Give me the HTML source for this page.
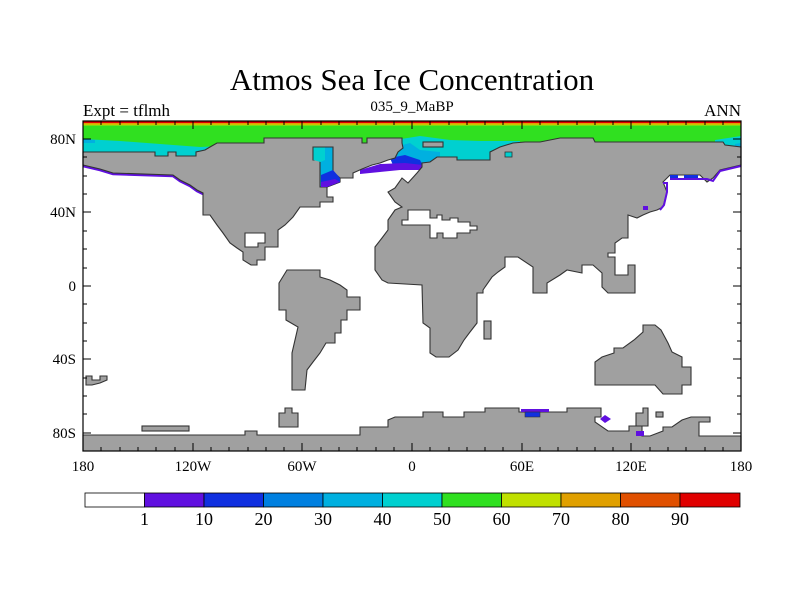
<!DOCTYPE html>
<html><head><meta charset="utf-8"><style>
body{margin:0;background:#fff;width:800px;height:600px;overflow:hidden}
svg text{font-family:"Liberation Serif",serif;fill:#000}
</style></head><body>
<svg width="800" height="600" viewBox="0 0 800 600" xmlns="http://www.w3.org/2000/svg">
<rect width="800" height="600" fill="#fff"/>
<text x="412" y="90" font-size="31" text-anchor="middle">Atmos Sea Ice Concentration</text>
<text x="83" y="116" font-size="17">Expt = tflmh</text>
<text x="412" y="111" font-size="15" text-anchor="middle">035_9_MaBP</text>
<text x="741" y="116" font-size="17" text-anchor="end">ANN</text>
<!-- polar bands -->
<rect x="83" y="121" width="658" height="2" fill="#e00000"/>
<rect x="83" y="123" width="658" height="1.5" fill="#e0a000"/>
<rect x="83" y="124.5" width="658" height="1" fill="#c0e000"/>
<rect x="83" y="125.5" width="658" height="28" fill="#30e020"/>
<!-- cyan left -->
<polygon points="83,139 120,141 160,144 200,147 222,146 230,143 230,156 83,156" fill="#00d0d0"/>
<polygon points="83,139 95,140 95,143 83,143" fill="#00b0e0"/>
<!-- cyan europe arctic -->
<polygon points="395,140 420,136 450,140 480,141 520,141 520,150 500,150 500,170 395,170" fill="#00d0d0"/>
<polygon points="395,147 410,143 420,150 440,152 440,160 420,165 395,168" fill="#00b0e0"/>
<polygon points="390,158 405,155 420,160 423,166 395,170" fill="#1030e0"/>
<polygon points="360,170 380,164 405,163 423,165 423,170 400,170 380,172 360,174" fill="#6010e0"/>
<!-- cyan far right -->
<polygon points="715,140 741,136 741,150 715,150" fill="#00d0d0"/>
<polygon points="735,144 741,143 741,150 735,150" fill="#00b0e0"/>
<!-- purple coast left -->
<polyline points="83,166 100,170 113,174 173,176 180,181 190,186 197,191 203,194" fill="none" stroke="#6010e0" stroke-width="2.5"/>
<g fill="#a0a0a0" stroke="#333" stroke-width="1.1" stroke-linejoin="miter">
<polygon points="83,152 155,152 155,156 168,156 168,152 176,152 176,156 196,156 196,152 205,150 210,147 217,143 264,143 264,138 362,138 362,143 367,143 367,138 402,138 402,143 403,148 398,152 395,158 388,160 380,163 372,165 362,169 353,173 353,178 340,178 340,182 327,187 327,197 333,197 333,202 320,202 320,207 300,207 293,217 285,225 278,230 278,247 265,247 265,260 257,260 257,265 251,265 243,260 243,252 237,248 230,243 223,233 217,225 210,215 203,215 203,193 197,190 190,185 180,180 173,175 113,173 100,169 83,165"/>
<polygon points="422,167 422,163 430,162 437,157 457,157 457,160 490,160 490,152 500,147 513,143 525,142 540,142 560,138 593,138 595,142 723,142 725,145 741,147 741,165 720,170 713,178 707,182 700,175 670,175 663,182 667,192 663,207 657,210 650,212 643,215 637,218 628,215 628,238 622,238 615,243 615,253 608,253 608,257 615,257 615,275 628,275 628,265 635,265 635,293 608,293 602,287 602,273 593,265 582,265 582,273 567,270 560,275 547,283 547,293 533,293 533,267 518,257 505,257 505,267 498,272 492,277 485,287 483,290 483,293 477,293 477,323 470,332 464,340 458,350 449,357 436,357 430,353 430,328 423,323 422,285 388,283 382,280 375,270 375,247 382,238 388,230 388,220 395,210 402,207 395,202 388,192 395,188 402,178 408,183 417,173"/>
<rect x="423" y="142" width="20" height="5"/>
<polygon points="287,270 320,270 320,277 330,280 340,285 347,290 347,297 360,297 360,310 347,310 347,320 341,320 341,333 335,333 335,343 326,343 320,353 313,362 307,370 305,390 292,390 292,353 298,327 286,320 286,310 279,310 279,283"/>
<rect x="484" y="321" width="7" height="18"/>
<polygon points="595,362 595,385 655,385 663,394 682,394 682,385 691,385 691,367 682,367 682,357 672,352 668,343 661,330 655,325 643,325 643,332 634,340 623,348 614,348 614,353 602,357"/>
<polygon points="86,376 92,376 92,380 100,380 100,376 107,376 107,380 100,383 92,385 86,385"/>
<polygon points="83,435 245,435 245,431 257,431 257,435 360,435 360,427 388,427 388,420 395,417 423,417 423,412 443,412 443,417 464,417 464,412 485,412 485,408 519,408 519,412 567,412 567,408 601,408 601,417 595,417 595,422 608,431 629,431 629,426 642,426 642,436 650,436 663,431 663,427 672,427 682,420 691,417 710,417 710,422 699,422 699,436 741,436 741,451 83,451"/>
<polygon points="279,413 285,413 285,408 292,408 292,413 298,413 298,427 279,427"/>
<rect x="142" y="426" width="47" height="5"/>
<polygon points="636,413 643,413 643,408 648,408 648,426 636,426"/>
<rect x="656" y="412" width="7" height="5"/>
<polygon points="245,233 265,233 265,243 258,243 258,247 245,247" fill="#fff"/>
<polygon points="408,210 430,210 430,218 437,218 437,215 442,215 442,220 450,220 450,218 458,218 458,222 470,222 470,226 477,226 477,230 470,230 470,233 457,233 457,238 443,238 443,233 437,233 437,238 430,238 430,225 402,225 402,220 408,220" fill="#fff"/>
<polygon points="313,147 333,147 333,172 340,178 340,182 327,187 320,187 320,160 313,160" fill="#00b0e0"/>
</g>
<polygon points="313.5,147.5 325,147.5 325,160 320.5,162 313.5,160" fill="#00d0d0"/>
<polygon points="321,175 333,170 340,178 340,182 327,187 321,187" fill="#1030e0"/>
<polygon points="321,182 335,179 340,182 327,187 321,187" fill="#6010e0"/>
<rect x="670" y="175" width="8" height="3" fill="#1030e0"/>
<rect x="684" y="175" width="14" height="3" fill="#1030e0"/>
<polyline points="663,183 667,183 667,192 664,205 660,210" fill="none" stroke="#6010e0" stroke-width="2"/>
<polyline points="670,179 707,179 713,181 720,171 741,166" fill="none" stroke="#6010e0" stroke-width="2"/>
<rect x="643" y="206" width="5" height="4" fill="#6010e0"/>
<rect x="505" y="152" width="7" height="5" fill="#00d0d0" stroke="#333" stroke-width="0.8"/>
<rect x="521" y="409" width="28" height="3" fill="#6010e0"/>
<rect x="525" y="412" width="15" height="5" fill="#1030e0" stroke="#333" stroke-width="0.6"/>
<polygon points="600,419 605,415 611,419 605,423" fill="#6010e0"/>
<rect x="636" y="431" width="8" height="5" fill="#6010e0"/>
<rect x="83" y="121" width="658" height="330" fill="none" stroke="#000" stroke-width="1.2"/>
<g stroke="#000" stroke-width="1">
<path d="M83,139h8M83,212h8M83,286h8M83,359h8M83,433h8M741,139h-8M741,212h-8M741,286h-8M741,359h-8M741,433h-8"/>
<path d="M83,157h4M83,176h4M83,194h4M83,231h4M83,249h4M83,268h4M83,304h4M83,323h4M83,341h4M83,378h4M83,396h4M83,414h4M741,157h-4M741,176h-4M741,194h-4M741,231h-4M741,249h-4M741,268h-4M741,304h-4M741,323h-4M741,341h-4M741,378h-4M741,396h-4M741,414h-4"/>
<path d="M193,451v-8M302,451v-8M412,451v-8M522,451v-8M631,451v-8M193,121v8M302,121v8M412,121v8M522,121v8M631,121v8"/>
<path d="M101,451v-4M120,451v-4M138,451v-4M156,451v-4M175,451v-4M211,451v-4M229,451v-4M248,451v-4M266,451v-4M284,451v-4M321,451v-4M339,451v-4M357,451v-4M376,451v-4M394,451v-4M430,451v-4M449,451v-4M467,451v-4M485,451v-4M503,451v-4M540,451v-4M558,451v-4M577,451v-4M595,451v-4M613,451v-4M650,451v-4M668,451v-4M686,451v-4M705,451v-4M723,451v-4"/>
<path d="M101,121v4M120,121v4M138,121v4M156,121v4M175,121v4M211,121v4M229,121v4M248,121v4M266,121v4M284,121v4M321,121v4M339,121v4M357,121v4M376,121v4M394,121v4M430,121v4M449,121v4M467,121v4M485,121v4M503,121v4M540,121v4M558,121v4M577,121v4M595,121v4M613,121v4M650,121v4M668,121v4M686,121v4M705,121v4M723,121v4"/>
</g>
<g font-size="15" text-anchor="end">
<text x="76" y="144">80N</text><text x="76" y="217">40N</text><text x="76" y="291">0</text><text x="76" y="364">40S</text><text x="76" y="438">80S</text>
</g>
<g font-size="15" text-anchor="middle">
<text x="83" y="471">180</text><text x="193" y="471">120W</text><text x="302" y="471">60W</text><text x="412" y="471">0</text><text x="522" y="471">60E</text><text x="631" y="471">120E</text><text x="741" y="471">180</text>
</g>
<g stroke="#000" stroke-width="0.8">
<rect x="85" y="493" width="59.5" height="14" fill="#fff"/>
<rect x="144.5" y="493" width="59.5" height="14" fill="#6010e0"/>
<rect x="204" y="493" width="59.5" height="14" fill="#1030e0"/>
<rect x="263.5" y="493" width="59.5" height="14" fill="#0080e0"/>
<rect x="323" y="493" width="59.5" height="14" fill="#00b0e0"/>
<rect x="382.5" y="493" width="59.5" height="14" fill="#00d0d0"/>
<rect x="442" y="493" width="59.5" height="14" fill="#30e020"/>
<rect x="501.5" y="493" width="59.5" height="14" fill="#c0e000"/>
<rect x="561" y="493" width="59.5" height="14" fill="#e0a000"/>
<rect x="620.5" y="493" width="59.5" height="14" fill="#e05000"/>
<rect x="680" y="493" width="60" height="14" fill="#e00000"/>
</g>
<g font-size="18" text-anchor="middle">
<text x="144.5" y="525">1</text><text x="204" y="525">10</text><text x="263.5" y="525">20</text><text x="323" y="525">30</text><text x="382.5" y="525">40</text><text x="442" y="525">50</text><text x="501.5" y="525">60</text><text x="561" y="525">70</text><text x="620.5" y="525">80</text><text x="680" y="525">90</text>
</g>
</svg>
</body></html>
